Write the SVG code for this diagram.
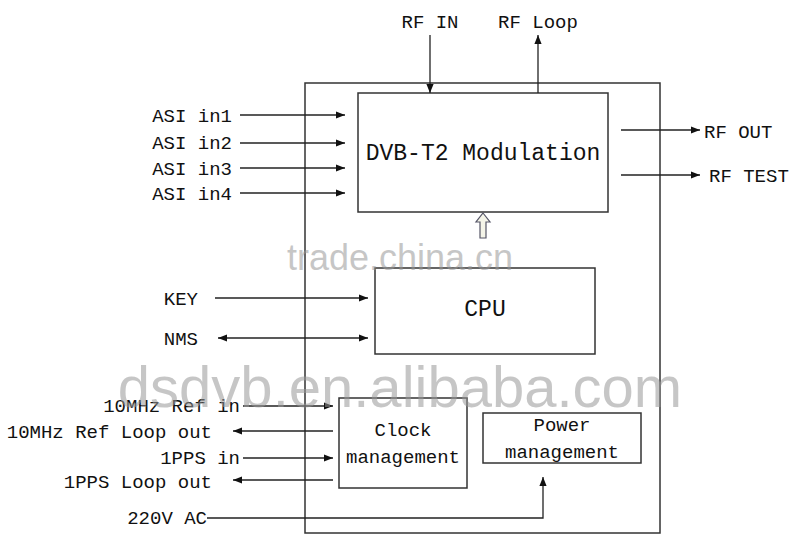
<svg xmlns="http://www.w3.org/2000/svg" width="800" height="539" viewBox="0 0 800 539">
<style>
.b{fill:#fff;stroke:#333;stroke-width:1.5}
.l{stroke:#222;stroke-width:1.3;fill:none}
text{font-family:"Liberation Mono","DejaVu Sans Mono",monospace;fill:#111;font-size:19px}
text.big{font-size:23px}
text.wm{font-family:"Liberation Sans",Arial,sans-serif;fill:#999;opacity:0.55}
text.w1{font-size:36px}
text.w2{font-size:58px}
</style>
<defs>
<marker id="a" viewBox="0 0 10 10" refX="10" refY="5" markerWidth="9" markerHeight="9" markerUnits="userSpaceOnUse" orient="auto-start-reverse"><path d="M0,1 L10,5 L0,9 z" fill="#111"/></marker>
</defs>
<rect width="800" height="539" fill="#fff"/>
<g id="outer"><rect class="b" x="305" y="83" width="355" height="450"/></g>
<g id="dvb"><rect class="b" x="358" y="93" width="250" height="119"/><text class="big" x="483" y="160" text-anchor="middle">DVB-T2 Modulation</text></g>
<g id="cpu"><rect class="b" x="375" y="268" width="220" height="86"/><text class="big" x="485" y="316" text-anchor="middle">CPU</text></g>
<g id="clock"><rect class="b" x="339" y="398" width="128" height="90"/><text x="403" y="436" text-anchor="middle">Clock</text><text x="403" y="463" text-anchor="middle">management</text></g>
<g id="power"><rect class="b" x="483" y="413" width="158" height="50"/><text x="562" y="431" text-anchor="middle">Power</text><text x="562" y="458" text-anchor="middle">management</text></g>
<g id="labels">
<text x="430" y="28" text-anchor="middle">RF IN</text>
<text x="538" y="28" text-anchor="middle">RF Loop</text>
<text x="232" y="122" text-anchor="end">ASI in1</text>
<text x="232" y="149" text-anchor="end">ASI in2</text>
<text x="232" y="175" text-anchor="end">ASI in3</text>
<text x="232" y="200" text-anchor="end">ASI in4</text>
<text x="704" y="138">RF OUT</text>
<text x="709" y="182">RF TEST</text>
<text x="198" y="305" text-anchor="end">KEY</text>
<text x="198" y="345" text-anchor="end">NMS</text>
<text x="240" y="412" text-anchor="end">10MHz Ref in</text>
<text x="212" y="438" text-anchor="end">10MHz Ref Loop out</text>
<text x="240" y="464" text-anchor="end">1PPS in</text>
<text x="212" y="488" text-anchor="end">1PPS Loop out</text>
<text x="207" y="524" text-anchor="end">220V AC</text>
</g>
<g id="connectors">
<line class="l" x1="430" y1="35" x2="430" y2="93" marker-end="url(#a)"/>
<line class="l" x1="538" y1="93" x2="538" y2="35" marker-end="url(#a)"/>
<line class="l" x1="240" y1="115" x2="345" y2="115" marker-end="url(#a)"/>
<line class="l" x1="240" y1="143" x2="345" y2="143" marker-end="url(#a)"/>
<line class="l" x1="240" y1="168" x2="345" y2="168" marker-end="url(#a)"/>
<line class="l" x1="240" y1="193" x2="345" y2="193" marker-end="url(#a)"/>
<line class="l" x1="621" y1="130" x2="700" y2="130" marker-end="url(#a)"/>
<line class="l" x1="621" y1="175" x2="700" y2="175" marker-end="url(#a)"/>
<line class="l" x1="215" y1="298" x2="368" y2="298" marker-end="url(#a)"/>
<line class="l" x1="218" y1="338" x2="368" y2="338" marker-start="url(#a)" marker-end="url(#a)"/>
<line class="l" x1="243" y1="406" x2="333" y2="406" marker-end="url(#a)"/>
<line class="l" x1="333" y1="431" x2="233" y2="431" marker-end="url(#a)"/>
<line class="l" x1="243" y1="458" x2="333" y2="458" marker-end="url(#a)"/>
<line class="l" x1="333" y1="480" x2="233" y2="480" marker-end="url(#a)"/>
<polyline class="l" points="207,518 543,518 543,477" marker-end="url(#a)"/>
<path d="M483,213 L490,222 L486,222 L486,238 L480,238 L480,222 L476,222 Z" fill="#f4f4e8" stroke="#556" stroke-width="1.2"/>
</g>
<g id="watermark">
<text class="wm w1" x="400" y="270" text-anchor="middle">trade.china.cn</text>
<text class="wm w2" x="400" y="407" text-anchor="middle">dsdvb.en.alibaba.com</text>
</g>
</svg>
